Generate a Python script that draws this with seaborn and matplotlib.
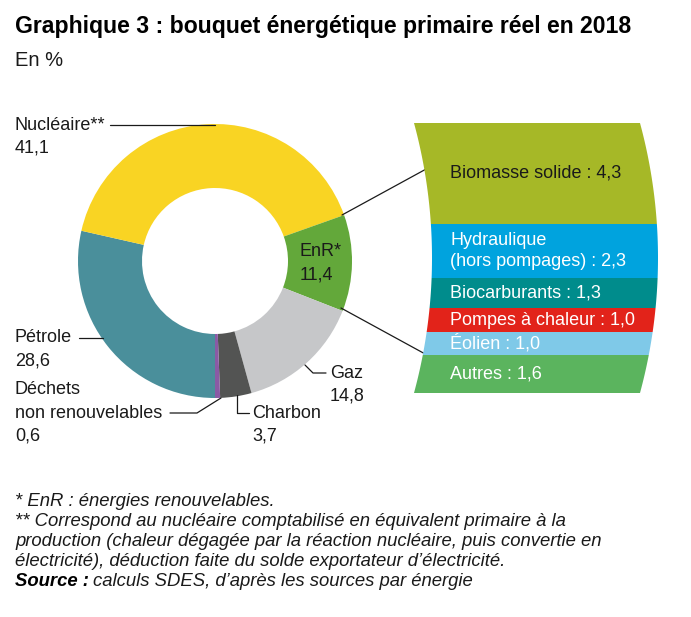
import numpy as np
import matplotlib
matplotlib.use("Agg")
import matplotlib.pyplot as plt
from matplotlib.patches import Polygon
import seaborn as sns

# donut data (order: clockwise from the bottom)
sources = ["Pétrole", "Nucléaire", "EnR", "Gaz", "Charbon", "Déchets non renouvelables"]
shares = [28.6, 41.1, 11.4, 14.8, 3.7, 0.6]
donut_colors = ["#4A8F9B", "#F9D423", "#63A83A", "#C6C7C9", "#535453", "#8A5AA5"]

# renewable breakdown (top to bottom)
enr_names = ["Biomasse solide", "Hydraulique\n(hors pompages)", "Biocarburants",
             "Pompes à chaleur", "Éolien", "Autres"]
enr_values = [4.3, 2.3, 1.3, 1.0, 1.0, 1.6]
enr_colors = ["#A6B827", "#00A3DE", "#008C8C", "#E2231A", "#7FC9E8", "#5BB45E"]
enr_text_colors = ["#1a1a1a", "white", "white", "white", "white", "white"]


def fr(v):
    return f"{v:.1f}".replace(".", ",")


sns.set_theme(style="white")
plt.rcParams["font.family"] = ["Liberation Sans", "DejaVu Sans"]

W, H = 691, 617
fig = plt.figure(figsize=(W / 100, H / 100), dpi=100)
ax = fig.add_axes([0, 0, 1, 1])

# donut (y axis inverted -> counterclock=True draws clockwise on screen)
ax.pie(shares, colors=donut_colors, startangle=90, counterclock=True,
       radius=137, center=(215, 261), frame=True,
       wedgeprops={"width": 64, "linewidth": 0})
ax.set_xlim(0, W)
ax.set_ylim(H, 0)
ax.set_aspect("auto")
ax.axis("off")

txt = "#1a1a1a"
fs = 13
lh = 23

# titles
ax.text(15, 26, "Graphique 3 : bouquet énergétique primaire réel en 2018",
        fontsize=16.6, fontweight="bold", color="black", va="center")
ax.text(15, 61, "En %", fontsize=14.5, color=txt, va="center")

# labels of the donut
ax.text(15, 125, "Nucléaire**", fontsize=fs, color=txt, va="center")
ax.text(15, 125 + lh, fr(shares[1]), fontsize=fs, color=txt, va="center")
ax.plot([110, 215], [125, 125], color=txt, lw=0.9)

ax.text(300, 252, "EnR*", fontsize=fs, color=txt, va="center")
ax.text(300, 275, fr(shares[2]), fontsize=fs, color=txt, va="center")

ax.text(15, 338, "Pétrole", fontsize=fs, color=txt, va="center")
ax.text(15, 338 + lh, fr(shares[0]), fontsize=fs, color=txt, va="center")
ax.plot([79, 103], [338, 338], color=txt, lw=0.9)

ax.text(15, 390, "Déchets", fontsize=fs, color=txt, va="center")
ax.text(15, 390 + lh, "non renouvelables", fontsize=fs, color=txt, va="center")
ax.text(15, 390 + 2 * lh, fr(shares[5]), fontsize=fs, color=txt, va="center")
ax.plot([170, 197, 221], [413, 413, 398], color=txt, lw=0.9)

ax.text(252, 413, "Charbon", fontsize=fs, color=txt, va="center")
ax.text(252, 413 + lh, fr(shares[4]), fontsize=fs, color=txt, va="center")
ax.plot([237, 237, 249], [395, 413, 413], color=txt, lw=0.9)

ax.text(330, 373, "Gaz", fontsize=fs, color=txt, va="center")
ax.text(330, 373 + lh, fr(shares[3]), fontsize=fs, color=txt, va="center")
ax.plot([305, 313, 326], [365, 373, 373], color=txt, lw=0.9)

# connector lines to the breakdown
ax.plot([342, 428], [215, 168], color=txt, lw=0.9)
ax.plot([341, 427], [308, 355], color=txt, lw=0.9)

# breakdown panel: stacked bar clipped by two parallel arcs
x0, x1, ytop, ybot = 410, 662, 123, 393
ax2 = fig.add_axes([x0 / W, (H - ybot) / H, (x1 - x0) / W, (ybot - ytop) / H])
total = sum(enr_values)
bottoms = np.concatenate([[0], np.cumsum(enr_values)[:-1]])
bars = ax2.bar(0.5, enr_values, bottom=bottoms, width=1, color=enr_colors, linewidth=0)
ax2.set_xlim(0, 1)
ax2.set_ylim(total, 0)
ax2.axis("off")

R, yc = 515, 258
ys = np.linspace(ytop, ybot, 60)
xl = 432 - R + np.sqrt(R ** 2 - (ys - yc) ** 2)
xr = xl + 226
pts = np.vstack([np.column_stack([xl, ys]), np.column_stack([xr, ys])[::-1]])
pts_ax = np.column_stack([(pts[:, 0] - x0) / (x1 - x0), (ybot - pts[:, 1]) / (ybot - ytop)])
clip = Polygon(pts_ax, closed=True, transform=ax2.transAxes, facecolor="none", edgecolor="none")
ax2.add_patch(clip)
for b in bars:
    b.set_clip_path(clip)

tx = (450 - x0) / (x1 - x0)
for name, val, b0, tc in zip(enr_names, enr_values, bottoms, enr_text_colors):
    ax2.text(tx, b0 + val / 2, f"{name} : {fr(val)}", fontsize=fs, color=tc,
             va="center", ha="left", linespacing=1.3)

# footnotes
ffs = 13.3
foot = [
    "* EnR : énergies renouvelables.",
    "** Correspond au nucléaire comptabilisé en équivalent primaire à la",
    "production (chaleur dégagée par la réaction nucléaire, puis convertie en",
    "électricité), déduction faite du solde exportateur d’électricité.",
]
for i, line in enumerate(foot):
    ax.text(15, 501 + i * 20.3, line, fontsize=ffs, style="italic", color=txt, va="center")
src = ax.text(15, 582, "Source :", fontsize=ffs, style="italic", fontweight="bold",
              color="black", va="center")
fig.canvas.draw()
bb = src.get_window_extent()
ax.text(15 + bb.width + 4, 582, "calculs SDES, d’après les sources par énergie",
        fontsize=ffs, style="italic", color=txt, va="center")

fig.savefig("out.png", dpi=100)
